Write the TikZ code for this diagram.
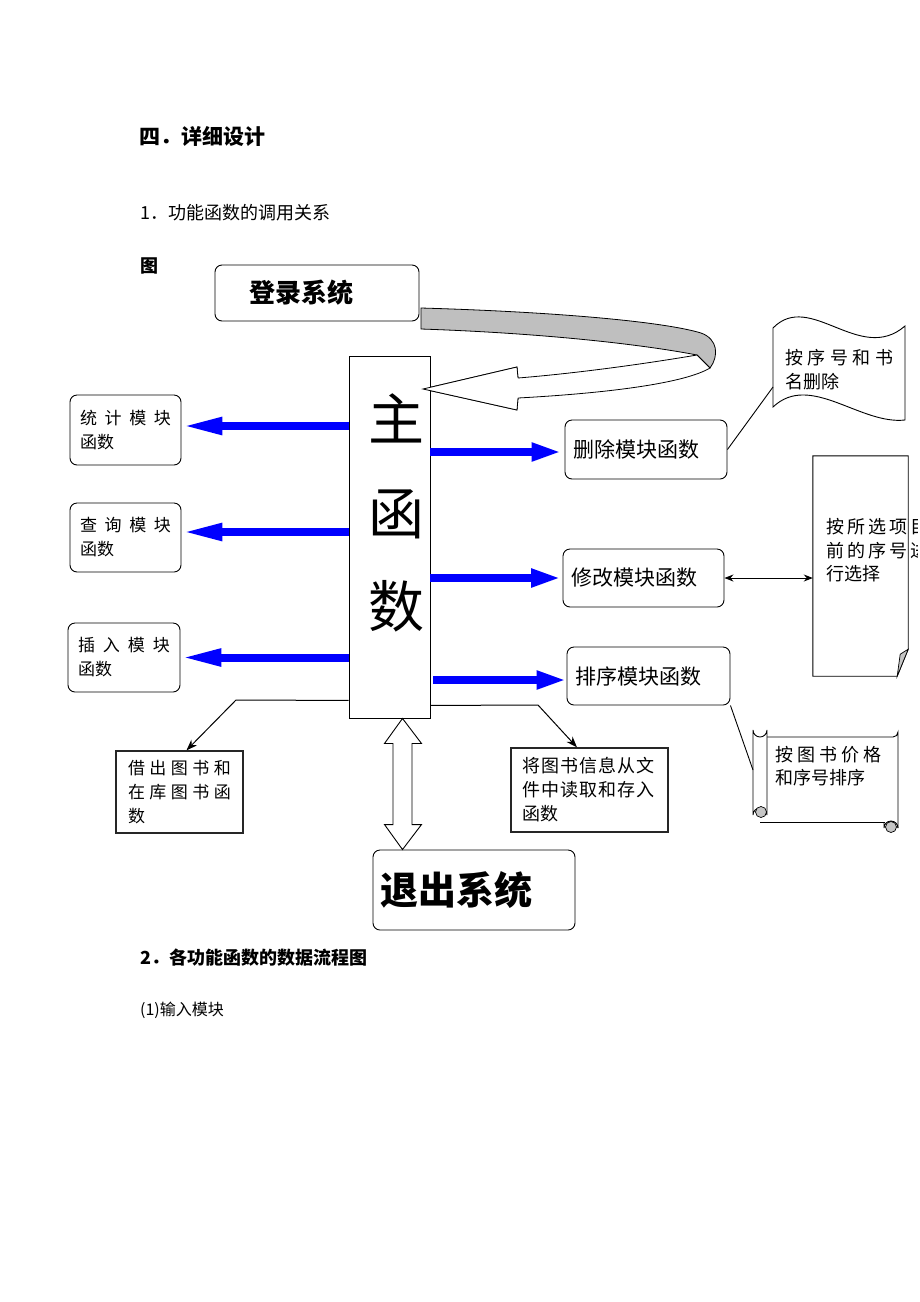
\documentclass[tikz,border=0pt]{standalone}
\usepackage{fontspec}
\newfontfamily\cjk{Noto Sans CJK SC}
\usetikzlibrary{arrows.meta,calc}
\newcommand{\spl}[2]{\makebox[#1][s]{#2}}
\begin{document}
\begin{tikzpicture}[x=1pt,y=-1pt,
  rbox/.style={draw, rounded corners=7pt, line width=0.9pt, inner ysep=0pt, align=left},
  pbox/.style={draw=black!85, line width=1.3pt, inner ysep=0pt, align=left},
  ftA/.style={font=\cjk\fontsize{17}{24}\selectfont},
  ftB/.style={font=\cjk\fontsize{21}{24}\selectfont},
  ftC/.style={font=\cjk\fontsize{18}{24}\selectfont},
  hd/.style={anchor=west, inner sep=0pt},
  bluearrL/.style={line width=8pt, blue, -{Triangle[length=41pt,width=16pt]}},
  bluearrR/.style={line width=8pt, blue, -{Triangle[length=30pt,width=17pt]}},
  thinarr/.style={line width=1pt, -{Stealth[length=11pt,width=8pt]}},
  outl/.style={draw, line width=0.9pt, fill=white},
]
\useasboundingbox (0,0) rectangle (920,1302);
\fill[white] (0,0) rectangle (920,1302);

% headings
\node[hd, font=\cjk\bfseries\fontsize{21}{21}\selectfont] (h1) at (139,136) {四．详细设计};
\node[hd, font=\cjk\fontsize{18}{18}\selectfont] (h2) at (140,213) {1．功能函数的调用关系};
\node[hd, font=\cjk\bfseries\fontsize{18}{18}\selectfont] (h3) at (140,266) {图};
\node[hd, font=\cjk\bfseries\fontsize{18}{18}\selectfont] (h4) at (140,958) {2．各功能函数的数据流程图};
\node[hd, font=\cjk\fontsize{16}{16}\selectfont] (h5) at (140,1010) {(1)输入模块};

% login
\node[rbox, minimum width=204pt, minimum height=56pt, inner xsep=34pt, text width=136pt,
      font=\cjk\bfseries\fontsize{26}{26}\selectfont] (login) at (317,293) {登录系统};

% curved 3D arrow
\draw[line width=0.8pt, fill=gray!50] (421,308) .. controls (560,312) and (665,322) .. (701,333)
   .. controls (718,339) and (719,356) .. (710,368) -- (697,355)
   .. controls (640,344) and (540,333) .. (421,329) -- cycle;
\draw[line width=0.8pt, fill=white] (697,355) .. controls (650,363) and (580,373) .. (518,378)
   -- (517,367) -- (423,389) -- (517,410) -- (518,398)
   .. controls (610,393) and (685,383) .. (710,368) -- cycle;

% main
\node[draw, line width=0.9pt, fill=white, minimum width=81pt, minimum height=362pt, inner sep=0pt] (main) at (389.5,537) {};
\node[font=\cjk\fontsize{56}{93.5}\selectfont, align=center, inner sep=0pt] (maintxt) at (396,513) {主\\函\\数};
% redraw arrow tip over main border
\draw[line width=0.8pt, fill=white] (518,378) -- (517,367) -- (423,389) -- (517,410) -- (518,398);

% left boxes
\node[rbox, ftA, minimum height=70pt, inner xsep=10pt, text width=91pt] (tj) at (125.5,430) {\spl{91pt}{统\hfill 计\hfill 模\hfill 块}\\函数};
\node[rbox, ftA, minimum height=69pt, inner xsep=10pt, text width=91pt] (cx) at (125.5,537.5) {\spl{91pt}{查\hfill 询\hfill 模\hfill 块}\\函数};
\node[rbox, ftA, minimum height=69pt, inner xsep=10pt, text width=92pt] (cr) at (124,657.5) {\spl{92pt}{插\hfill 入\hfill 模\hfill 块}\\函数};

\draw[bluearrL] ([yshift=4pt]tj.east -| main.west) -- ([yshift=4pt]tj.east);
\draw[bluearrL] ([yshift=5.5pt]cx.east -| main.west) -- ([yshift=5.5pt]cx.east);
\draw[bluearrL] (cr.east -| main.west) -- (cr.east);

% right boxes
\node[rbox, ftB, minimum height=59pt, inner xsep=8pt, text width=146pt] (del) at (646,449.5) {删除模块函数};
\node[rbox, ftB, minimum height=58pt, inner xsep=8pt, text width=145pt] (mod) at (643.5,578) {修改模块函数};
\node[rbox, ftB, minimum height=58pt, inner xsep=8pt, text width=147pt] (srt) at (648.5,676) {排序模块函数};

\draw[bluearrR] ([yshift=-2.5pt]del.west -| main.east) -- ([yshift=-2.5pt,xshift=-3pt]del.west);
\draw[bluearrR] (mod.west -| main.east) -- ([xshift=-1.5pt]mod.west);
\draw[bluearrR] ([yshift=-4pt,xshift=3pt]srt.west -| main.east) -- ([yshift=-4pt]srt.west);

% wave flag
\draw[outl] (773,328) .. controls (810,290) and (860,365) .. (905,326) -- (905,420)
   .. controls (860,425) and (810,372) .. (773,407) -- cycle;
\node[ftC, anchor=west, text width=108pt, align=left, inner sep=0pt] (flagtxt) at (785,369.5)
   {\spl{108pt}{按\hfill 序\hfill 号\hfill 和\hfill 书}\\名删除};
\coordinate (flagL) at (773,387);
\draw[line width=0.9pt] (del.east) -- (flagL);

% folded note
\node[minimum width=95pt, minimum height=220pt, inner sep=0pt] (note) at (860.5,566) {};
\draw[outl] (note.north west) -- (note.north east) -- ([yshift=27pt]note.south east)
   -- ([xshift=-11pt]note.south east) -- (note.south west) -- cycle;
\draw[line width=0.7pt, fill=gray!45] ([xshift=-11pt]note.south east) -- ([xshift=-8pt,yshift=22pt]note.south east) -- ([yshift=27pt]note.south east) -- cycle;
\begin{scope}
\clip (note.north west) rectangle ([xshift=9pt]note.south east);
\node[anchor=west, text width=110pt, align=left, inner sep=0pt, font=\cjk\fontsize{18}{23.5}\selectfont] (notetxt) at (826,550.5)
   {\spl{102pt}{按\hfill 所\hfill 选\hfill 项\hfill 目}\\\spl{102pt}{前\hfill 的\hfill 序\hfill 号\hfill 进}\\行选择};
\end{scope}
\draw[line width=0.9pt, {Stealth[length=9pt,width=7pt]}-{Stealth[length=9pt,width=7pt]}] (mod.east) -- (mod.east -| note.west);

% scroll
\draw[outl] (767,737) -- (893,737) arc[start angle=90,end angle=0,radius=5] -- (898,828);
\draw[outl] (753,730) arc[start angle=180,end angle=0,radius=7] -- (767,815)
   arc[start angle=0,end angle=-180,radius=7] -- cycle;
\draw[line width=0.7pt, fill=gray!45] (761,812) circle (5.5);
\draw[line width=0.9pt] (760,822) -- (885,822);
\draw[line width=0.9pt] (898,828) arc[start angle=0,end angle=-180,radius=7] -- (884,822);
\draw[line width=0.7pt, fill=gray!45] (891,827) circle (5.5);
\node[anchor=west, text width=106pt, align=left, inner sep=0pt, font=\cjk\fontsize{18}{23}\selectfont] (scrolltxt) at (775,766.5)
   {\spl{106pt}{按\hfill 图\hfill 书\hfill 价\hfill 格}\\和序号排序};
\coordinate (scrollL) at (753,770);
\draw[line width=0.9pt] (srt.south east) -- (scrollL);

% bottom boxes
\node[pbox, ftA, minimum height=82pt, inner xsep=12pt, text width=103pt] (borrow) at (179.5,792)
   {\spl{103pt}{借\hfill 出\hfill 图\hfill 书\hfill 和}\\\spl{103pt}{在\hfill 库\hfill 图\hfill 书\hfill 函}\\数};
\node[pbox, ftC, minimum height=84pt, inner xsep=11pt, text width=135pt] (file) at (589.5,790)
   {\spl{133pt}{将\hfill 图\hfill 书\hfill 信\hfill 息\hfill 从\hfill 文}\\\spl{133pt}{件\hfill 中\hfill 读\hfill 取\hfill 和\hfill 存\hfill 入}\\函数};

\coordinate (bl) at (236,700);
\draw[thinarr] ($(main.south west)+(0,-18)$) -- (bl) -- ([xshift=7pt]borrow.north);
\coordinate (br) at (538,705);
\draw[thinarr] ($(main.south east)+(0,-13)$) -- (br) -- ([xshift=-12.5pt]file.north);

% exit
\node[rbox, minimum width=202pt, minimum height=80pt, inner xsep=7pt, text width=188pt,
      font=\cjk\bfseries\fontsize{38}{38}\selectfont] (exit) at (474,890) {退出系统};

% vertical double block arrow
\coordinate (dt) at ([xshift=13pt]main.south);
\coordinate (db) at (dt |- exit.north);
\draw[line width=0.9pt, fill=white] (dt) -- ($(dt)+(-18,25)$) -- ($(dt)+(-9.5,25)$) -- ($(db)+(-9.5,-25)$)
   -- ($(db)+(-18,-25)$) -- (db) -- ($(db)+(19,-25)$) -- ($(db)+(9.5,-25)$) -- ($(dt)+(9.5,25)$)
   -- ($(dt)+(19,25)$) -- cycle;
\end{tikzpicture}
\end{document}
